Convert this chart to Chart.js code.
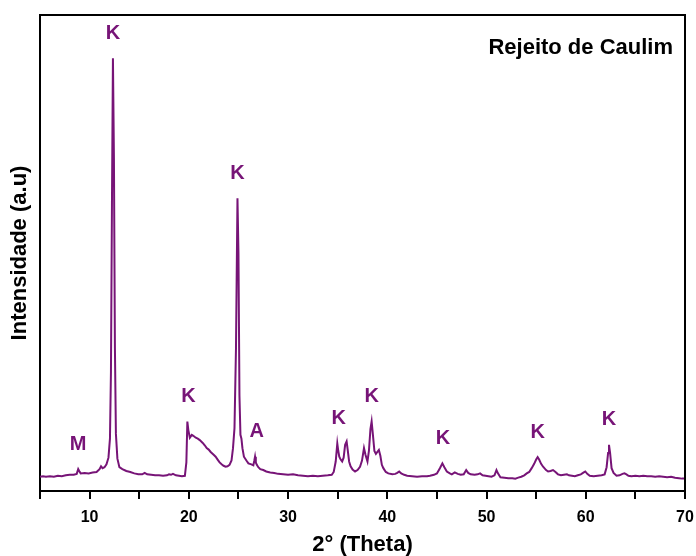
<!DOCTYPE html>
<html>
<head>
<meta charset="utf-8">
<script src="https://cdn.jsdelivr.net/npm/chart.js@4/dist/chart.umd.min.js"></script>
<style>
  body { margin: 0; background: #fff; }
  #wrap { width: 696px; height: 556px; }
</style>
</head>
<body>
<div id="wrap"><canvas id="xrdChart"></canvas></div>
<script>
// diffractogram, 2theta (deg) vs counts
let twoTheta = [
    5.0, 5.3, 5.6, 6.0, 6.4, 6.8, 7.2, 7.6, 8.0, 8.4, 8.7, 8.85, 8.95, 9.1, 9.5, 9.9, 10.3, 10.7,
    11.0, 11.15, 11.3, 11.5, 11.7, 11.9, 12.05, 12.15, 12.25, 12.35, 12.45, 12.55, 12.65, 12.8,
    13.0, 13.3, 13.7, 14.1, 14.5, 14.9, 15.3, 15.55, 15.8, 16.2, 16.6, 17.0, 17.4, 17.8, 18.0,
    18.2, 18.4, 18.7, 19.0, 19.3, 19.6, 19.75, 19.85, 19.95, 20.1, 20.3, 20.45, 20.7, 20.9, 21.1,
    21.4, 21.6, 21.8, 22.0, 22.2, 22.5, 22.7, 22.9, 23.1, 23.3, 23.5, 23.7, 23.9, 24.1, 24.3,
    24.45, 24.6, 24.75, 24.9, 25.0, 25.1, 25.2, 25.3, 25.4, 25.55, 25.8, 26.0, 26.3, 26.5, 26.6,
    26.67, 26.75, 26.85, 27.0, 27.2, 27.5, 27.8, 28.2, 28.6, 29.0, 29.5, 30.0, 30.5, 31.0, 31.5,
    32.0, 32.5, 33.0, 33.5, 34.0, 34.4, 34.6, 34.8, 34.96, 35.06, 35.16, 35.3, 35.45, 35.6, 35.75,
    35.9, 36.0, 36.15, 36.3, 36.5, 36.75, 37.0, 37.25, 37.45, 37.65, 37.8, 38.0, 38.15, 38.3,
    38.42, 38.55, 38.7, 38.85, 39.0, 39.15, 39.3, 39.45, 39.6, 39.85, 40.1, 40.5, 40.8, 41.0,
    41.2, 41.4, 41.7, 42.0, 42.5, 43.0, 43.5, 44.0, 44.3, 44.7, 45.0, 45.3, 45.55, 45.75, 46.0,
    46.3, 46.5, 46.8, 47.1, 47.4, 47.7, 47.95, 48.15, 48.4, 48.8, 49.1, 49.35, 49.6, 49.9, 50.2,
    50.5, 50.8, 51.0, 51.15, 51.4, 51.8, 52.2, 52.6, 52.9, 53.2, 53.5, 53.8, 54.05, 54.3, 54.55,
    54.8, 55.0, 55.15, 55.3, 55.5, 55.7, 56.0, 56.2, 56.45, 56.7, 56.95, 57.2, 57.5, 57.8, 58.1,
    58.3, 58.6, 58.9, 59.2, 59.5, 59.8, 59.95, 60.15, 60.4, 60.8, 61.2, 61.6, 61.9, 62.1, 62.25,
    62.34, 62.45, 62.6, 62.8, 63.1, 63.4, 63.7, 63.9, 64.1, 64.3, 64.6, 65.0, 65.4, 65.8, 66.2,
    66.6, 67.0, 67.4, 67.8, 68.2, 68.6, 69.0, 69.4, 69.7, 70.0
];
let intensity = [
    30, 31, 30, 31, 30, 32, 31, 33, 34, 34, 36, 46, 42, 37, 38, 37, 39, 40,
    46, 52, 48, 50, 56, 70, 110, 250, 600, 909, 700, 300, 120, 68,
    50, 46, 42, 40, 37, 35, 35, 38, 35, 34, 33, 33, 32, 33, 35,
    34, 36, 33, 32, 31, 32, 60, 146, 128, 112, 118, 116, 112, 110, 107,
    101, 96, 90, 87, 82, 76, 72, 66, 60, 56, 53, 51, 52, 55, 64,
    90, 132, 300, 615, 500, 200, 118, 110, 90, 72, 64, 58, 56, 54, 64,
    72, 60, 55, 50, 46, 44, 41, 39, 38, 36, 35, 34, 35, 33, 32,
    31, 32, 31, 32, 33, 34, 40, 62, 100, 84, 72, 66, 62, 70, 97,
    104, 88, 62, 52, 45, 41, 44, 51, 64, 90, 76, 62, 85, 130,
    146, 118, 84, 78, 82, 86, 74, 55, 48, 40, 37, 35, 36, 38,
    41, 37, 34, 32, 31, 30, 31, 31, 32, 34, 37, 48, 58, 50, 41,
    37, 35, 39, 36, 34, 35, 44, 38, 35, 34, 35, 37, 33, 32, 31,
    30, 33, 44, 37, 29, 28, 27, 27, 26, 28, 30, 33, 37, 40, 48,
    57, 66, 71, 66, 57, 51, 44, 41, 42, 44, 40, 35, 33, 34, 35,
    33, 32, 31, 33, 35, 39, 41, 36, 32, 31, 32, 33, 35, 50, 80,
    97, 80, 48, 38, 32, 33, 36, 37, 35, 32, 31, 32, 31, 32, 31,
    31, 30, 31, 30, 29, 30, 28, 27, 26, 26
];

// phase marks: M = mica, K = kaolinite, A = anatase
let peakLabels = ['M', 'K', 'K', 'K', 'A', 'K', 'K', 'K', 'K', 'K'];
let peakPos = [8.85, 12.35, 19.95, 24.9, 26.85, 35.1, 38.42, 45.6, 55.15, 62.34];

let purple = '#771477';
let fontFamily = '"Liberation Sans", Arial, sans-serif';

let points = twoTheta.map((t, i) => ({ x: t, y: intensity[i] }));

// box on top/right, peak letters and sample name
let decorations = {
    id: 'decorations',
    afterDraw: (chart) => {
        let c = chart.ctx;
        let area = chart.chartArea;
        let xs = chart.scales.x;
        let ys = chart.scales.y;

        c.save();
        c.strokeStyle = '#000';
        c.lineWidth = 2;
        c.beginPath();
        c.moveTo(area.left, area.top);
        c.lineTo(area.right, area.top);
        c.lineTo(area.right, area.bottom);
        c.stroke();

        c.fillStyle = purple;
        c.font = 'bold 20px ' + fontFamily;
        c.textAlign = 'center';
        c.textBaseline = 'middle';
        for (let i = 0; i < peakLabels.length; i++) {
            let top = 0;
            for (let j = 0; j < twoTheta.length; j++) {
                if (Math.abs(twoTheta[j] - peakPos[i]) <= 0.5 && intensity[j] > top) top = intensity[j];
            }
            c.fillText(peakLabels[i], xs.getPixelForValue(peakPos[i]), ys.getPixelForValue(top) - 25);
        }

        c.fillStyle = '#000';
        c.font = 'bold 22px ' + fontFamily;
        c.textAlign = 'right';
        c.fillText('Rejeito de Caulim', area.right - 12, area.top + 33);
        c.restore();
    }
};

let ctx = document.getElementById('xrdChart').getContext('2d');
let xrdChart = new Chart(ctx, {
    type: 'line',
    data: {
        datasets: [{
            data: points,
            borderColor: purple,
            borderWidth: 2,
            pointRadius: 0,
            tension: 0,
            fill: false
        }]
    },
    options: {
        responsive: true,
        maintainAspectRatio: false,
        animation: false,
        layout: { padding: { top: 15, right: 0, left: 0, bottom: 0 } },
        plugins: {
            legend: { display: false },
            tooltip: { enabled: false }
        },
        scales: {
            x: {
                type: 'linear',
                min: 5,
                max: 70,
                afterFit: (scale) => {
                    scale.height = 65;
                    scale.paddingLeft = 0;
                    scale.paddingRight = 11;
                },
                border: { display: true, color: '#000', width: 2 },
                grid: {
                    drawOnChartArea: false,
                    drawTicks: true,
                    tickLength: 8,
                    color: '#000',
                    lineWidth: 2
                },
                ticks: {
                    stepSize: 5,
                    autoSkip: false,
                    maxRotation: 0,
                    padding: 9,
                    color: '#000',
                    font: { family: fontFamily, size: 16, weight: 'bold' },
                    callback: (v) => (v % 10 === 0 ? v : '')
                },
                title: {
                    display: true,
                    text: '2° (Theta)',
                    color: '#000',
                    padding: { top: 0, bottom: 0 },
                    font: { family: fontFamily, size: 22, weight: 'bold', lineHeight: 1 }
                }
            },
            y: {
                min: 0,
                max: 1000,
                afterFit: (scale) => { scale.width = 40; },
                border: { display: true, color: '#000', width: 2 },
                grid: { display: false },
                ticks: { display: false },
                title: {
                    display: true,
                    text: 'Intensidade (a.u)',
                    color: '#000',
                    padding: { top: 9, bottom: 0 },
                    font: { family: fontFamily, size: 22, weight: 'bold', lineHeight: 1 }
                }
            }
        }
    },
    plugins: [decorations]
});
</script>
</body>
</html>
